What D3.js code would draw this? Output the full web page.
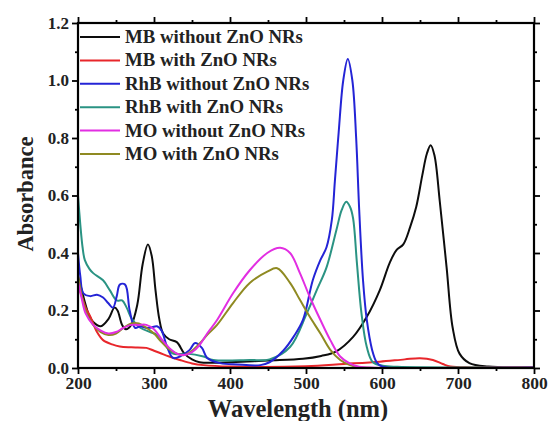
<!DOCTYPE html>
<html>
<head>
<meta charset="utf-8">
<script src="https://cdn.jsdelivr.net/npm/d3@7"></script>
<style>
  body { margin: 0; background: #fff; }
  svg text { font-family: "Liberation Serif", "Times New Roman", serif; font-weight: bold; }
</style>
</head>
<body>
<div id="chart"></div>
<script>
// series names and colours
var seriesNames = ['MB without ZnO NRs', 'MB with ZnO NRs', 'RhB without ZnO NRs',
  'RhB with ZnO NRs', 'MO without ZnO NRs', 'MO with ZnO NRs']
var seriesColors = ['#0d0d0d', '#e8262b', '#2424d6', '#2a9383', '#e22ee2', '#8f8a22']

// values: [wavelength nm, absorbance]
var mbWithout = [[200,0.32],[205,0.27],[210,0.22],[215,0.18],[220,0.16],[230,0.145],[240,0.17],[248,0.21],
  [252,0.2],[258,0.15],[263,0.135],[270,0.15],[278,0.22],[285,0.36],[292,0.43],[297,0.39],[302,0.27],
  [307,0.17],[312,0.12],[320,0.1],[330,0.09],[340,0.05],[350,0.03],[360,0.02],[380,0.018],[400,0.02],
  [450,0.026],[496,0.032],[520,0.042],[540,0.058],[562,0.108],[580,0.178],[597,0.27],[610,0.365],
  [619,0.41],[628,0.43],[637,0.49],[645,0.56],[653,0.67],[659,0.745],[664,0.775],[669,0.74],[676,0.58],
  [685,0.35],[693,0.14],[702,0.05],[715,0.017],[740,0.005],[800,0.003]]
var mbWith = [[200,0.29],[205,0.25],[210,0.21],[216,0.18],[225,0.125],[233,0.097],[245,0.082],[255,0.075],
  [270,0.072],[290,0.07],[300,0.06],[308,0.052],[320,0.04],[334,0.028],[350,0.016],[365,0.01],[400,0.005],
  [500,0.006],[550,0.014],[597,0.022],[630,0.03],[650,0.034],[667,0.028],[680,0.014],[690,0.005],
  [720,0.002],[800,0.002]]
var rhbWithout = [[200,0.4],[203,0.32],[207,0.26],[216,0.25],[225,0.255],[233,0.245],[240,0.225],[246,0.21],
  [251,0.25],[255,0.29],[262,0.29],[268,0.2],[275,0.14],[282,0.145],[289,0.14],[295,0.14],[304,0.145],
  [310,0.13],[317,0.075],[325,0.035],[334,0.04],[347,0.063],[354,0.087],[363,0.07],[370,0.035],
  [387,0.017],[410,0.012],[440,0.01],[452,0.02],[470,0.06],[484,0.11],[496,0.167],[509,0.306],
  [519,0.376],[527,0.42],[534,0.515],[538,0.65],[543,0.82],[549,1.0],[555,1.075],[561,1.0],[566,0.8],
  [570,0.55],[575,0.306],[580,0.167],[587,0.063],[593,0.02],[600,0.005],[800,0.002]]
var rhbWith = [[200,0.6],[203,0.5],[206,0.42],[209,0.375],[215,0.345],[220,0.33],[233,0.305],[242,0.27],
  [251,0.235],[258,0.235],[264,0.21],[271,0.17],[282,0.14],[295,0.125],[304,0.115],[312,0.09],[325,0.05],
  [343,0.05],[365,0.04],[378,0.028],[426,0.028],[452,0.03],[479,0.073],[501,0.19],[514,0.27],[527,0.35],
  [540,0.48],[547,0.55],[553,0.578],[558,0.56],[562,0.52],[567,0.365],[573,0.19],[580,0.073],[588,0.02],
  [601,0.008],[620,0.004],[800,0.002]]
var moWithout = [[200,0.3],[205,0.24],[210,0.19],[220,0.15],[230,0.13],[240,0.12],[250,0.125],[260,0.14],
  [270,0.15],[280,0.15],[290,0.15],[300,0.135],[310,0.1],[320,0.07],[330,0.05],[340,0.045],[350,0.055],
  [360,0.08],[370,0.12],[383,0.167],[404,0.26],[426,0.34],[449,0.4],[466,0.418],[479,0.4],[492,0.33],
  [505,0.247],[519,0.167],[532,0.097],[545,0.04],[558,0.015],[570,0.004],[590,0.001],[800,0.001]]
var moWith = [[200,0.32],[205,0.25],[210,0.2],[220,0.15],[230,0.125],[240,0.115],[250,0.12],[260,0.14],
  [270,0.155],[280,0.155],[290,0.14],[300,0.12],[310,0.09],[320,0.065],[330,0.05],[340,0.045],[350,0.06],
  [360,0.085],[370,0.115],[383,0.15],[404,0.226],[426,0.296],[449,0.335],[462,0.347],[479,0.296],
  [492,0.237],[505,0.178],[519,0.12],[532,0.063],[545,0.028],[558,0.01],[570,0.003],[800,0.001]]

var seriesData = [mbWithout, mbWith, rhbWithout, rhbWith, moWithout, moWith]
// draw order: later ones on top
var drawOrder = [0, 1, 3, 2, 5, 4]

var xTicks = [200, 300, 400, 500, 600, 700, 800]
var xMinor = [250, 350, 450, 550, 650, 750]
var yTicks = [0.0, 0.2, 0.4, 0.6, 0.8, 1.0, 1.2]
var yMinor = [0.1, 0.3, 0.5, 0.7, 0.9, 1.1]

var W = 549, H = 421
var margin = { top: 23, right: 15, bottom: 53, left: 78 }
var w = W - margin.left - margin.right
var h = H - margin.top - margin.bottom

var svg = d3.select('#chart').append('svg')
  .attr('width', W)
  .attr('height', H)

var g = svg.append('g')
  .attr('transform', 'translate(' + margin.left + ',' + margin.top + ')')

var x = d3.scaleLinear().domain([200, 800]).range([0, w])
var y = d3.scaleLinear().domain([0, 1.2]).range([h, 0])

svg.append('defs').append('clipPath').attr('id', 'clip')
  .append('rect').attr('width', w).attr('height', h)

var line = d3.line()
  .x(function(d) { return x(d[0]) })
  .y(function(d) { return y(d[1]) })
  .curve(d3.curveCatmullRom.alpha(0.5))

var curves = g.append('g').attr('clip-path', 'url(#clip)')
drawOrder.forEach(function(i) {
  curves.append('path')
    .datum(seriesData[i])
    .attr('d', line)
    .attr('fill', 'none')
    .attr('stroke', seriesColors[i])
    .attr('stroke-width', 2)
    .attr('stroke-linejoin', 'round')
})

// axes with outward ticks on all four sides
function styleAxis(sel) {
  sel.select('.domain').remove()
  sel.selectAll('line').attr('stroke', '#000').attr('stroke-width', 1.8)
}

function minorAxis(axisFn, scale, vals) {
  return axisFn(scale).tickValues(vals).tickSize(3).tickFormat('')
}

g.append('g').attr('transform', 'translate(0,' + h + ')')
  .call(d3.axisBottom(x).tickValues(xTicks).tickSize(6).tickPadding(3).tickFormat(d3.format('d')))
  .call(styleAxis)
  .selectAll('text').attr('font-size', 17.5).attr('fill', '#222')
g.append('g').attr('transform', 'translate(0,' + h + ')')
  .call(minorAxis(d3.axisBottom, x, xMinor)).call(styleAxis)

g.append('g')
  .call(d3.axisTop(x).tickValues(xTicks).tickSize(6).tickFormat(''))
  .call(styleAxis)
g.append('g').call(minorAxis(d3.axisTop, x, xMinor)).call(styleAxis)

g.append('g')
  .call(d3.axisLeft(y).tickValues(yTicks).tickSize(6).tickPadding(3).tickFormat(d3.format('.1f')))
  .call(styleAxis)
  .selectAll('text').attr('font-size', 17).attr('fill', '#222')
g.append('g').call(minorAxis(d3.axisLeft, y, yMinor)).call(styleAxis)

g.append('g').attr('transform', 'translate(' + w + ',0)')
  .call(d3.axisRight(y).tickValues(yTicks).tickSize(6).tickFormat(''))
  .call(styleAxis)
g.append('g').attr('transform', 'translate(' + w + ',0)')
  .call(minorAxis(d3.axisRight, y, yMinor)).call(styleAxis)

// frame
g.append('rect')
  .attr('width', w).attr('height', h)
  .attr('fill', 'none').attr('stroke', '#000').attr('stroke-width', 2.2)

// axis titles
svg.append('text')
  .attr('x', 298)
  .attr('y', H - 4)
  .attr('text-anchor', 'middle')
  .attr('font-size', 24.5)
  .attr('fill', '#222')
  .text('Wavelength (nm)')

svg.append('text')
  .attr('transform', 'translate(33,194) rotate(-90)')
  .attr('text-anchor', 'middle')
  .attr('font-size', 22.5)
  .attr('fill', '#222')
  .text('Absorbance')

// legend
var legend = g.append('g').attr('transform', 'translate(2,14)')
seriesNames.forEach(function(name, i) {
  var row = legend.append('g').attr('transform', 'translate(0,' + (i * 23.4) + ')')
  row.append('line')
    .attr('x1', 0).attr('x2', 40)
    .attr('stroke', seriesColors[i]).attr('stroke-width', 2)
  row.append('text')
    .attr('x', 45).attr('y', 6)
    .attr('font-size', 18.8)
    .attr('fill', '#222')
    .text(name)
})
</script>
</body>
</html>
